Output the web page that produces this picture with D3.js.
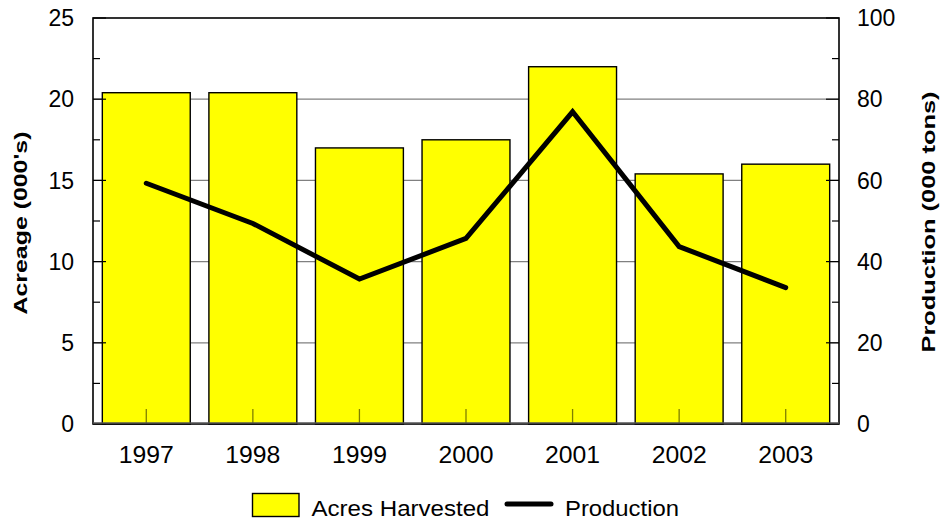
<!DOCTYPE html>
<html>
<head>
<meta charset="utf-8">
<script src="https://cdn.jsdelivr.net/npm/d3@7"></script>
<style>
  body { margin: 0; background: #fff; }
  svg { display: block; }
  text { font-family: "Liberation Sans", Arial, sans-serif; fill: #000; }
</style>
</head>
<body>
<svg id="chart" width="940" height="521"></svg>
<script>
const years = ["1997", "1998", "1999", "2000", "2001", "2002", "2003"];
const acresHarvested = [20.4, 20.4, 17.0, 17.5, 22.0, 15.4, 16.0];
const production = [59.3, 49.4, 35.7, 45.7, 76.9, 43.7, 33.6];
const leftTicks = [0, 5, 10, 15, 20, 25];
const rightTicks = [0, 20, 40, 60, 80, 100];
const leftMinor = [2.5, 7.5, 12.5, 17.5, 22.5];
const rightMinor = [10, 30, 50, 70, 90];

const svg = d3.select("#chart");
const m = { left: 93, right: 839, top: 18, bottom: 424 };

const x = d3.scaleBand().domain(years).range([m.left, m.right]).paddingInner(0.175).paddingOuter(0.0875);
const yL = d3.scaleLinear().domain([0, 25]).range([m.bottom, m.top]);
const yR = d3.scaleLinear().domain([0, 100]).range([m.bottom, m.top]);

// gridlines
svg.append("g").selectAll("line").data(leftTicks.filter(d => d > 0 && d < 25)).join("line")
  .attr("x1", m.left).attr("x2", m.right)
  .attr("y1", d => yL(d)).attr("y2", d => yL(d))
  .attr("stroke", "#808080").attr("stroke-width", 1.2);

// bars
svg.append("g").selectAll("rect").data(years).join("rect")
  .attr("x", d => x(d))
  .attr("width", x.bandwidth())
  .attr("y", (d, i) => yL(acresHarvested[i]))
  .attr("height", (d, i) => yL(0) - yL(acresHarvested[i]))
  .attr("fill", "#ffff00")
  .attr("stroke", "#000")
  .attr("stroke-width", 1.4);

// x ticks inside
svg.append("g").selectAll("line").data(years).join("line")
  .attr("x1", d => x(d) + x.bandwidth() / 2).attr("x2", d => x(d) + x.bandwidth() / 2)
  .attr("y1", m.bottom).attr("y2", m.bottom - 15)
  .attr("stroke", "#000").attr("stroke-opacity", 0.5).attr("stroke-width", 1.3);

// left ticks (inward)
svg.append("g").selectAll("line").data(leftTicks).join("line")
  .attr("x1", m.left).attr("x2", m.left + 13)
  .attr("y1", d => yL(d)).attr("y2", d => yL(d))
  .attr("stroke", "#000").attr("stroke-width", 1.2);
svg.append("g").selectAll("line").data(leftMinor).join("line")
  .attr("x1", m.left).attr("x2", m.left + 7)
  .attr("y1", d => yL(d)).attr("y2", d => yL(d))
  .attr("stroke", "#000").attr("stroke-width", 1.2);
// right ticks (inward)
svg.append("g").selectAll("line").data(rightTicks).join("line")
  .attr("x1", m.right).attr("x2", m.right - 13)
  .attr("y1", d => yR(d)).attr("y2", d => yR(d))
  .attr("stroke", "#000").attr("stroke-width", 1.2);
svg.append("g").selectAll("line").data(rightMinor).join("line")
  .attr("x1", m.right).attr("x2", m.right - 7)
  .attr("y1", d => yR(d)).attr("y2", d => yR(d))
  .attr("stroke", "#000").attr("stroke-width", 1.2);

// frame
svg.append("rect")
  .attr("x", m.left).attr("y", m.top)
  .attr("width", m.right - m.left).attr("height", m.bottom - m.top)
  .attr("fill", "none").attr("stroke", "#000").attr("stroke-width", 1.6);
svg.append("line").attr("x1", m.left).attr("x2", m.right)
  .attr("y1", m.bottom - 1).attr("y2", m.bottom - 1)
  .attr("stroke", "#555").attr("stroke-width", 1.5);

// production line
const line = d3.line()
  .x((d, i) => x(years[i]) + x.bandwidth() / 2)
  .y(d => yR(d));
svg.append("path").datum(production)
  .attr("d", line)
  .attr("fill", "none").attr("stroke", "#000").attr("stroke-width", 5)
  .attr("stroke-linecap", "round").attr("stroke-linejoin", "miter");

// tick labels
const fs = 23;
svg.append("g").selectAll("text").data(leftTicks).join("text")
  .attr("x", 74).attr("y", d => yL(d)).attr("dy", "0.36em")
  .attr("text-anchor", "end").attr("font-size", fs).text(d => d);
svg.append("g").selectAll("text").data(rightTicks).join("text")
  .attr("x", 857).attr("y", d => yR(d)).attr("dy", "0.36em")
  .attr("text-anchor", "start").attr("font-size", fs).text(d => d);
svg.append("g").selectAll("text").data(years).join("text")
  .attr("x", d => x(d) + x.bandwidth() / 2 - 27.5).attr("y", 463)
  .attr("textLength", 55).attr("lengthAdjust", "spacingAndGlyphs")
  .attr("font-size", fs).text(d => d);

// axis titles
svg.append("text")
  .attr("transform", `translate(27, ${223 + 91.5}) rotate(-90)`)
  .attr("font-size", 19).attr("font-weight", "bold")
  .attr("textLength", 183).attr("lengthAdjust", "spacingAndGlyphs")
  .text("Acreage (000's)");
svg.append("text")
  .attr("transform", `translate(935, ${222 + 130.5}) rotate(-90)`)
  .attr("font-size", 19).attr("font-weight", "bold")
  .attr("textLength", 261).attr("lengthAdjust", "spacingAndGlyphs")
  .text("Production (000 tons)");

// legend
const lg = svg.append("g");
lg.append("rect").attr("x", 252.5).attr("y", 493.5).attr("width", 46.5).attr("height", 23)
  .attr("fill", "#ffff00").attr("stroke", "#000").attr("stroke-width", 1.4);
lg.append("text").attr("x", 311.5).attr("y", 516).attr("font-size", 22)
  .attr("textLength", 178).attr("lengthAdjust", "spacingAndGlyphs").text("Acres Harvested");
lg.append("line").attr("x1", 507).attr("x2", 551).attr("y1", 504).attr("y2", 504)
  .attr("stroke", "#000").attr("stroke-width", 5).attr("stroke-linecap", "round");
lg.append("text").attr("x", 565).attr("y", 516).attr("font-size", 22)
  .attr("textLength", 114).attr("lengthAdjust", "spacingAndGlyphs").text("Production");
</script>
</body>
</html>
